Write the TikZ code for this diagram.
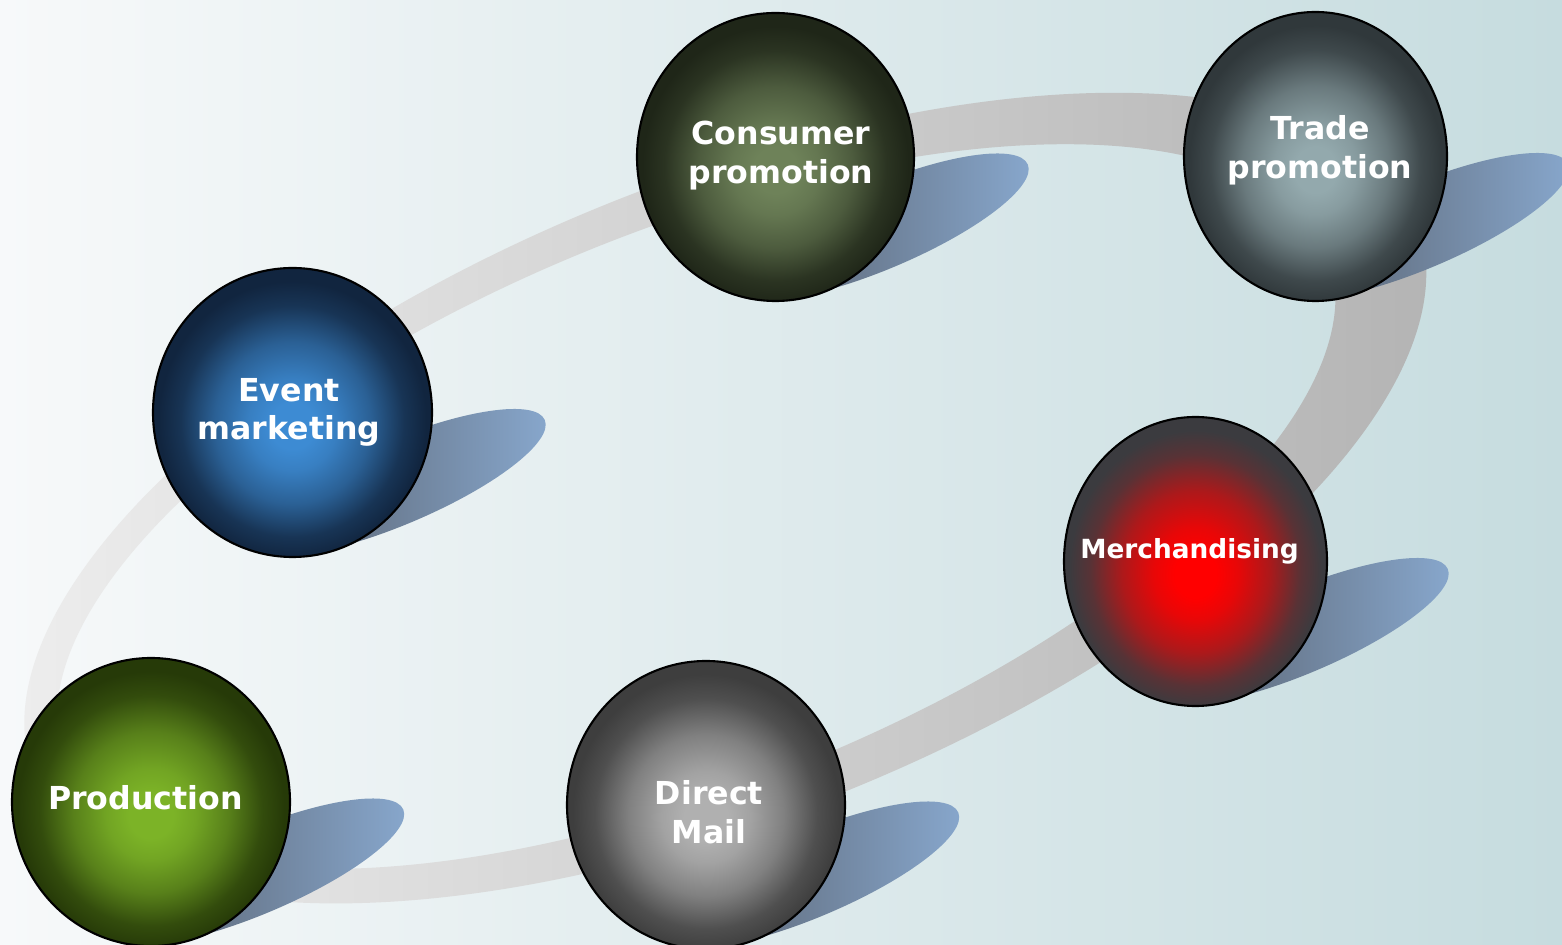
\documentclass[tikz,border=0pt]{standalone}
\usepackage{fontspec}
\setmainfont{DejaVu Sans}
\usepackage{xcolor}
\definecolor{back-light}{HTML}{F7F9FA}
\definecolor{back-mid}{HTML}{ECF2F3}
\definecolor{back-teal}{HTML}{C6DCDF}
\definecolor{band-light}{HTML}{EFEFEF}
\definecolor{band-grey}{HTML}{B2B2B2}
\definecolor{shadow-dark}{HTML}{545A64}
\definecolor{shadow-mid}{HTML}{6E7E93}
\definecolor{shadow-blue}{HTML}{88A8CE}
\definecolor{cons-in}{HTML}{6E8259}
\definecolor{cons-out}{HTML}{1F2618}
\definecolor{trade-in}{HTML}{93A9AD}
\definecolor{trade-out}{HTML}{30383B}
\definecolor{event-in}{HTML}{3D8BD3}
\definecolor{event-out}{HTML}{11253F}
\definecolor{merch-in}{HTML}{FF0000}
\definecolor{merch-out}{HTML}{3B3B3F}
\definecolor{prod-in}{HTML}{7CB327}
\definecolor{prod-out}{HTML}{263A08}
\definecolor{mail-in}{HTML}{B0B0B0}
\definecolor{mail-out}{HTML}{3E3E3E}
\usepackage{tikz}
\usetikzlibrary{shapes.geometric}

\colorlet{ballin}{white}
\colorlet{ballout}{black}
\pgfdeclareradialshading[ballin,ballout]{ball-glow}{\pgfpoint{0bp}{-2.5bp}}{%
  color(0bp)=(ballin); color(4bp)=(ballin); color(8bp)=(ballin!88!ballout);
  color(14bp)=(ballin!58!ballout); color(20bp)=(ballin!15!ballout);
  color(24bp)=(ballout); color(50bp)=(ballout)}

\tikzset{
  ball colors/.code 2 args={\colorlet{ballin}{#1}\colorlet{ballout}{#2}},
  ball/.style n args={4}{ellipse, draw=black, line width=0.6pt, inner sep=0pt,
    minimum width=#1, minimum height=#2, shade, shading=ball-glow, ball colors={#3}{#4}},
  ball-text/.style={text=white, align=center, inner sep=0pt,
    font=\bfseries\fontsize{9}{11}\selectfont}
}

\begin{document}
\begin{tikzpicture}

    % Background
    \useasboundingbox (0, 0) rectangle (15.62, 9.44);
    \shade[left color=back-light, middle color=back-mid, right color=back-teal] (0, 0) rectangle (15.62, 9.44);

    % Ball positions
    \coordinate (cons-pos) at (7.755, 7.87);
    \coordinate (trade-pos) at (13.155, 7.875);
    \coordinate (event-pos) at (2.925, 5.315);
    \coordinate (merch-pos) at (11.955, 3.825);
    \coordinate (prod-pos) at (1.51, 1.42);
    \coordinate (mail-pos) at (7.06, 1.39);

    % Band
    \shade[left color=band-light, right color=band-grey, even odd rule]
        (7.253, 4.459) ellipse [x radius=7.45, y radius=3.17, rotate=22]
        (6.963, 4.374) ellipse [x radius=6.80, y radius=2.78, rotate=22];

    % Shadows
    \foreach \b in {cons, trade, event, merch, prod, mail}
        \shade[left color=shadow-dark, middle color=shadow-mid, right color=shadow-blue]
            ([shift={(1.05, -0.70)}]\b-pos) ellipse [x radius=1.60, y radius=0.42, rotate=23];

    % Balls
    \node[ball={2.77cm}{2.88cm}{cons-in}{cons-out}] (cons) at (cons-pos) {};
    \node[ball={2.63cm}{2.89cm}{trade-in}{trade-out}] (trade) at (trade-pos) {};
    \node[ball={2.79cm}{2.89cm}{event-in}{event-out}] (event) at (event-pos) {};
    \node[ball={2.63cm}{2.89cm}{merch-in}{merch-out}] (merch) at (merch-pos) {};
    \node[ball={2.78cm}{2.88cm}{prod-in}{prod-out}] (prod) at (prod-pos) {};
    \node[ball={2.78cm}{2.88cm}{mail-in}{mail-out}] (mail) at (mail-pos) {};

    % Labels
    \node[ball-text] (cons-text) at ([shift={(0.055, 0.015)}]cons) {Consumer\\promotion};
    \node[ball-text] (trade-text) at ([shift={(0.045, 0.065)}]trade) {Trade\\promotion};
    \node[ball-text] (event-text) at ([shift={(-0.035, 0)}]event) {Event\\marketing};
    \node[ball-text, font=\bfseries\fontsize{7.5}{9}\selectfont] (merch-text) at ([shift={(-0.06, 0.10)}]merch) {Merchandising};
    \node[ball-text] (prod-text) at ([shift={(-0.055, 0.04)}]prod) {Production};
    \node[ball-text] (mail-text) at ([shift={(0.03, -0.075)}]mail) {Direct\\Mail};

\end{tikzpicture}
\end{document}
